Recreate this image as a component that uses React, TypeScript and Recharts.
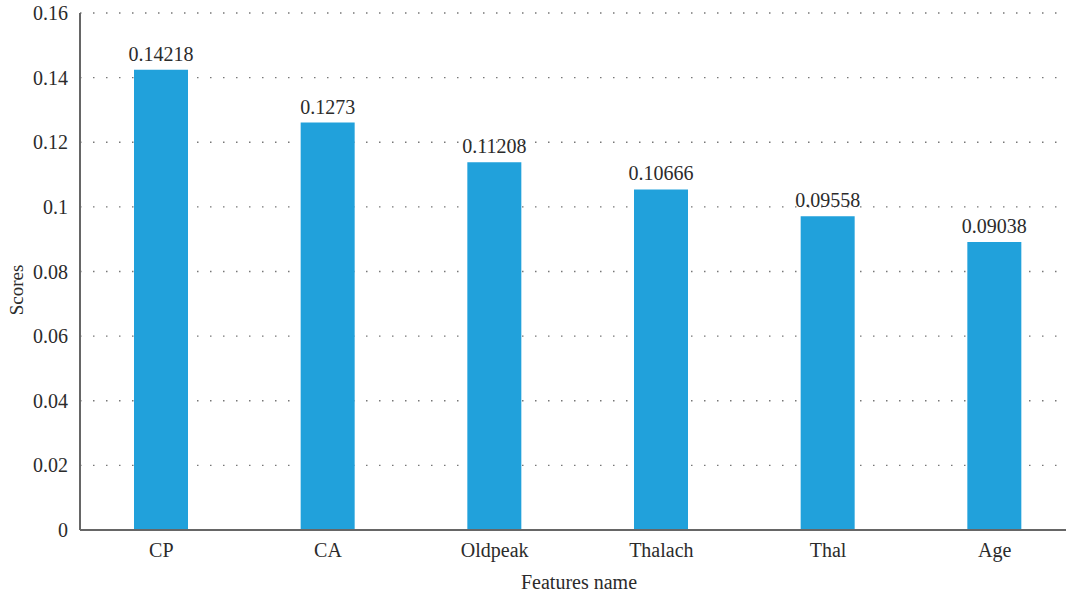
import React from 'react';
import { BarChart, Bar, XAxis, YAxis, CartesianGrid, LabelList } from 'recharts';

const categories = ['CP', 'CA', 'Oldpeak', 'Thalach', 'Thal', 'Age'];
const barValues = [0.1424, 0.1261, 0.1138, 0.1054, 0.0971, 0.0891];
const valueLabels = ['0.14218', '0.1273', '0.11208', '0.10666', '0.09558', '0.09038'];
const yTicks = [0, 0.02, 0.04, 0.06, 0.08, 0.1, 0.12, 0.14, 0.16];

const data = categories.map((name, i) => ({ name, value: barValues[i], label: valueLabels[i] }));

const FONT = '"Liberation Serif", "DejaVu Serif", serif';
const TEXT = '#2b2b2b';

const ScoresLabel = () => (
  <text
    x={0}
    y={0}
    transform="translate(23, 290) rotate(-90)"
    textAnchor="middle"
    fill={TEXT}
    fontSize={19}
    fontFamily={FONT}
  >
    Scores
  </text>
);

export default function App() {
  return (
    <div style={{ position: 'fixed', left: 0, top: 0, width: 1066, height: 595, overflow: 'hidden', background: '#fff' }}>
      <BarChart
        width={1086}
        height={595}
        data={data}
        margin={{ top: 13, right: 8, bottom: 0, left: 0 }}
        style={{ fontFamily: FONT }}
      >
        <CartesianGrid
          vertical={false}
          stroke="#777"
          strokeDasharray="1.5 11.5"
          strokeWidth={1.3}
        />
        <XAxis
          dataKey="name"
          height={65}
          tickLine={false}
          axisLine={{ stroke: '#666', strokeWidth: 2 }}
          tick={{ fill: TEXT, fontSize: 20, fontFamily: FONT }}
          tickMargin={7}
          padding={{ left: -2, right: 0 }}
          label={{ value: 'Features name', position: 'insideBottom', offset: 6, fill: TEXT, fontSize: 20, fontFamily: FONT }}
        />
        <YAxis
          width={80}
          domain={[0, 0.16]}
          ticks={yTicks}
          interval={0}
          tickFormatter={(v: number) => String(+v.toFixed(2))}
          tickLine={false}
          axisLine={{ stroke: '#666', strokeWidth: 2 }}
          tick={{ fill: TEXT, fontSize: 20, fontFamily: FONT }}
          tickMargin={6}
          label={<ScoresLabel />}
        />
        <Bar dataKey="value" fill="#21A1DB" barSize={54} isAnimationActive={false}>
          <LabelList dataKey="label" position="top" offset={9} fill={TEXT} fontSize={20} fontFamily={FONT} />
        </Bar>
      </BarChart>
    </div>
  );
}
